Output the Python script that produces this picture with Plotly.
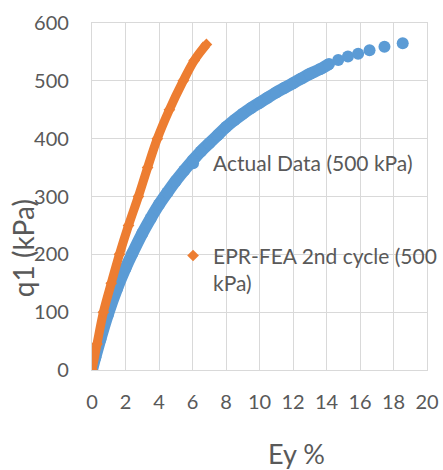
import plotly.graph_objects as go

# Actual data (500 kPa)
actual_x = [0, 0.2, 0.5, 0.95, 1.5, 2.0, 2.4, 3.0, 3.5, 4.0, 4.5, 5.0, 5.5, 6.0, 6.5,
            7.0, 7.5, 8.0, 8.5, 9.0, 9.5, 10.0, 10.5, 11.0, 11.5, 12.0, 12.5, 13.0, 13.6,
            14.15, 14.7, 15.28, 15.89, 16.57, 17.46, 18.55]
actual_q = [0, 22, 53, 96, 141, 176, 201, 236, 262, 286, 307, 327, 345, 362, 378,
            392, 406, 420, 432, 443, 453, 462, 471, 480, 488, 496, 504, 512, 520,
            529, 536, 542, 547, 553, 559, 565]

# EPR-FEA 2nd cycle (500 kPa)
fea_x = [0, 0.3, 0.68, 1.15, 1.64, 2.18, 2.77, 3.32, 3.9, 4.62, 5.45, 6.1, 6.83]
fea_q = [0, 45, 100, 150, 200, 250, 300, 350, 400, 450, 500, 535, 563]

name_actual = "Actual Data (500 kPa)"
name_fea = "EPR-FEA 2nd cycle (500<br>kPa)"
x_title = "Ey %"
y_title = "q1 (kPa)"
x_ticks = list(range(0, 21, 2))
y_ticks = list(range(0, 601, 100))

blue = "#5b9bd5"
orange = "#ed7d31"
grid = "#d9d9d9"
txt = "#595959"
font_family = "Lato"

dense_n = 29  # points where markers merge into a band

fig = go.Figure()
fig.add_trace(go.Scatter(x=actual_x[:dense_n + 1], y=actual_q[:dense_n + 1], mode="lines",
                         line=dict(color=blue, width=12, shape="spline", smoothing=1),
                         showlegend=False, hoverinfo="skip"))
fig.add_trace(go.Scatter(x=actual_x, y=actual_q, mode="markers", name=name_actual,
                         marker=dict(color=blue, size=12, symbol="circle"), legend="legend"))
fig.add_trace(go.Scatter(x=fea_x, y=fea_q, mode="lines",
                         line=dict(color=orange, width=9, shape="spline", smoothing=1),
                         showlegend=False, hoverinfo="skip"))
fig.add_trace(go.Scatter(x=fea_x, y=fea_q, mode="markers", name=name_fea,
                         marker=dict(color=orange, size=9, symbol="diamond"), legend="legend2"))

axis_common = dict(showgrid=True, gridcolor=grid, gridwidth=1.3, zeroline=False,
                   showline=True, linecolor=grid, linewidth=1.3, mirror=True, ticks="",
                   tickfont=dict(family=font_family, size=20, color=txt))

fig.update_layout(
    width=443, height=470,
    margin=dict(l=92, r=16, t=23, b=100, autoexpand=False),
    paper_bgcolor="white", plot_bgcolor="white",
    xaxis=dict(range=[0, 20], tickvals=x_ticks, ticklabelstandoff=14, **axis_common),
    yaxis=dict(range=[0, 600], tickvals=y_ticks, ticklabelstandoff=18, **axis_common),
    legend=dict(x=0.242, y=0.595, xanchor="left", yanchor="middle", bgcolor="rgba(0,0,0,0)",
                font=dict(family=font_family, size=21, color=txt), itemwidth=30),
    legend2=dict(x=0.242, y=0.29, xanchor="left", yanchor="middle", bgcolor="rgba(0,0,0,0)",
                 font=dict(family=font_family, size=21, color=txt), itemwidth=30, valign="top"),
    annotations=[
        dict(text=x_title, xref="paper", yref="paper", x=0.61, y=-0.24, showarrow=False,
             font=dict(family=font_family, size=27, color=txt), xanchor="center", yanchor="middle"),
        dict(text=y_title, xref="paper", yref="paper", x=-0.205, y=0.352, showarrow=False,
             textangle=-90, font=dict(family=font_family, size=28, color=txt),
             xanchor="center", yanchor="middle"),
    ],
    showlegend=True,
)

fig.write_html("out.html")
